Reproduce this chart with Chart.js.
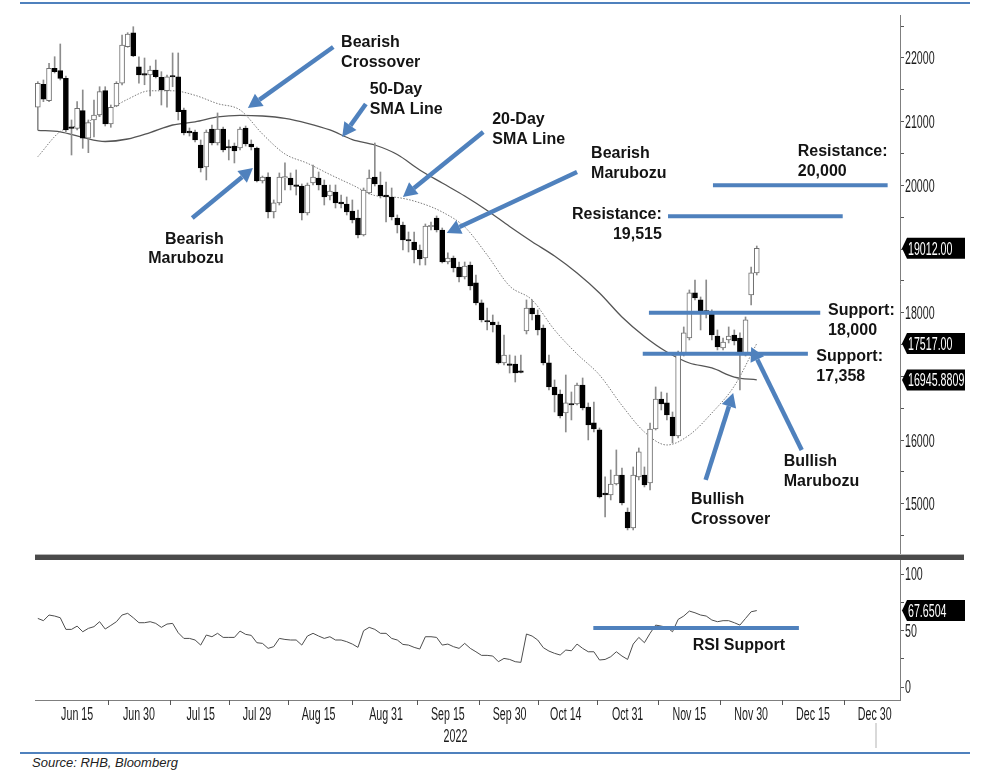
<!DOCTYPE html>
<html lang="en">
<head>
<meta charset="utf-8">
<title>Hang Seng Index – daily candles, SMA and RSI</title>
<script src="https://cdn.jsdelivr.net/npm/chart.js@4.4.1/dist/chart.umd.min.js"></script>
<style>
  html, body { margin: 0; padding: 0; background: #fff; }
  #page { position: relative; width: 999px; height: 773px; overflow: hidden; }
  #prix { position: absolute; left: 0; top: 0; }
  #rsi  { position: absolute; left: 0; top: 560px; }
  .trait-bleu { position: absolute; left: 20px; width: 950px; height: 2px; background: #4f81bd; }
  #separateur { position: absolute; left: 35px; top: 554px; width: 929px; height: 5px;
                background: #4a4a4a; border-top: 1px solid #b4b4b4; }
  #repere { position: absolute; left: 875px; top: 723px; width: 2px; height: 25px; background: #d9d9d9; }
  #source { position: absolute; left: 32px; top: 755px; color: #222;
            font: italic 13px "Liberation Sans", Arial, sans-serif; }
</style>
</head>
<body>
<div id="page">
  <div class="trait-bleu" style="top:2px"></div>
  <canvas id="prix" width="999" height="554"></canvas>
  <div id="separateur"></div>
  <canvas id="rsi" width="999" height="186"></canvas>
  <div id="repere"></div>
  <div class="trait-bleu" style="top:752px"></div>
  <div id="source">Source: RHB, Bloomberg</div>
</div>
<script>
/* ─── Categories: weekdays from Jun 6 2022 to Jan 5 2023 ───────── */
const MONTHS = ['Jan','Feb','Mar','Apr','May','Jun','Jul','Aug','Sep','Oct','Nov','Dec'];
const FIRST_DAY = new Date(2022, 5, 6);
const NB_DAYS = 154;

function weekdays() {
    const out = [];
    const d = new Date(FIRST_DAY);
    while (out.length < NB_DAYS) {
        const w = d.getDay();
        if (w !== 0 && w !== 6) out.push(MONTHS[d.getMonth()] + ' ' + d.getDate());
        d.setDate(d.getDate() + 1);
    }
    return out;
}
const dayLabels = weekdays();

const xTickLabels = ['Jun 15','Jun 30','Jul 15','Jul 29','Aug 15','Aug 31','Sep 15',
                     'Sep 30','Oct 14','Oct 31','Nov 15','Nov 30','Dec 15','Dec 30'];
const yearLabel = '2022';

/* ─── Daily candles (index points) ──────────────────────────────── */
const opens = [
    21226,21587,21330,21838,21801,21681,20912,20896,21173,20740,
    21027,21105,21487,20964,21246,21603,22177,22397,21863,21740,
    21733,21812,21697,21487,21717,21706,21184,20854,20838,20634,
    20289,20885,20665,20885,20603,20618,20587,20901,20650,20587,
    20069,20132,19582,19724,20116,20116,19990,19990,19566,20037,
    20116,20006,19833,19896,19739,19708,19598,19488,19221,19881,
    20132,20006,19849,19818,19488,19378,19143,19111,18986,18860,
    19350,19488,19300,18797,18860,18719,18562,18750,18468,18154,
    17871,17855,17808,17212,17190,17196,17070,17714,18075,17965,
    17761,17212,16835,16725,16427,16568,16568,16866,16521,16270,
    16160,15170,15139,15312,15453,14872,14621,15422,15453,15328,
    16175,16646,16584,16363,16065,17353,17604,18311,18201,18028,
    17997,17635,17447,17573,17651,17604,17369,18279,18625
];
const highs = [
    21628,21655,21917,22020,22220,21717,21027,21314,21498,21027,
    21341,21549,21549,21262,21628,22361,22397,22491,22020,22000,
    21874,21969,21785,21733,22079,22079,21215,20901,20870,20713,
    20870,20948,21137,20917,20713,20665,20917,20932,20713,20603,
    20147,20195,19771,20195,20352,20195,20242,20022,20037,20320,
    20210,20085,20006,20006,19849,19818,19771,19614,19959,20242,
    20665,20210,20053,19959,19535,19425,19268,19268,19064,19394,
    19425,19520,19331,18939,18891,18797,18797,18797,18593,18201,
    18075,17965,17855,17651,17337,17321,17337,18201,18201,18044,
    17808,17337,16945,16788,17023,16756,16897,16976,16584,16599,
    16191,15422,15532,15846,15563,14935,15579,15877,15579,16269,
    16835,16756,16740,16442,17399,17777,18358,18515,18248,18515,
    18044,17730,17604,17777,17730,17683,17934,18719,19048
];
const lows = [
    20870,21314,21314,21765,21655,20843,20477,20870,20582,20513,
    20761,21079,20932,20912,21235,21576,22168,22020,21603,21580,
    21403,21686,21262,21226,21549,21027,20791,20775,20681,20210,
    20085,20634,20634,20524,20399,20352,20556,20618,20556,20053,
    20037,19488,19488,19692,19928,19928,19849,19457,19535,20006,
    19928,19692,19771,19645,19645,19535,19410,19174,19205,19865,
    19990,19802,19425,19457,19253,18986,18954,18782,18750,18750,
    19300,19268,18782,18766,18640,18483,18530,18358,18122,17855,
    17730,17698,17196,17180,17054,16913,17054,17667,17887,17651,
    17180,16788,16442,16348,16128,16317,16552,16474,16003,16128,
    15092,14794,15061,15296,14982,14590,14590,15375,15265,15218,
    16160,16474,16317,15955,16034,17321,17573,18201,17730,17918,
    17573,17416,17416,17526,17494,16788,17321,18122,18593
];
const closes = [
    21603,21352,21838,21785,21681,20870,20896,21210,20740,20984,
    21105,21471,20964,21226,21603,22204,22377,22031,21733,21730,
    21812,21706,21498,21706,21702,21157,20823,20823,20713,20273,
    20838,20665,20885,20556,20587,20540,20885,20650,20603,20069,
    20132,19582,19724,20132,20132,20006,19985,19566,20006,20132,
    20006,19818,19912,19724,19708,19582,19457,19221,19928,20116,
    20022,19833,19818,19504,19378,19143,19127,18986,18844,19362,
    19362,19300,18797,18860,18703,18562,18734,18420,18154,17887,
    17855,17808,17212,17337,17175,17054,17065,18075,17981,17730,
    17212,16835,16709,16380,16584,16552,16866,16505,16238,16175,
    15108,15139,15312,15453,15014,14621,15453,15815,15296,16175,
    16646,16568,16395,16065,17369,17683,18311,18232,18012,18012,
    17651,17463,17541,17635,17557,17369,17887,18625,19012
];

/* ─── Moving averages, read every 4 sessions ────────────────────── */
const smaDays = [0,4,8,12,16,20,24,28,32,36,40,44,48,52,56,60,64,
                 68,72,76,80,84,88,92,96,100,104,108,112,116,120,124,128];
const sma20 = [20450,20846,20959,21152,21352,21485,21485,21414,21284,21184,20807,
               20493,20347,20171,20006,19841,19810,19727,19582,19347,18907,18420,
               18201,17730,17353,17023,16544,16128,15924,16081,16426,16850,17517];
const sma50 = [20865,20841,20752,20689,20728,20830,20948,20998,21074,21100,21089,
               21053,20975,20870,20720,20634,20485,20242,20037,19833,19606,19355,
               19116,18891,18624,18310,17934,17628,17384,17211,17133,16990,16945.8809];

/* ─── RSI (14) ──────────────────────────────────────────────────── */
const rsi = [
    60.7,58.7,63.7,62.8,61.3,51.0,51.0,53.9,48.9,51.9,
    53.4,57.8,51.3,54.5,57.8,63.7,65.2,61.3,56.9,56.9,
    57.8,56.3,52.8,55.7,56.3,48.0,43.0,43.0,41.6,37.1,
    46.0,44.5,47.5,43.9,43.9,43.9,49.5,46.6,45.7,39.2,
    38.6,34.2,35.7,43.0,42.1,41.6,41.6,37.1,45.1,47.5,
    45.1,43.0,44.5,41.6,41.6,40.1,38.0,35.1,49.8,52.8,
    51.0,47.5,47.5,43.0,41.6,37.7,37.1,35.1,33.6,44.5,
    44.5,43.9,37.1,38.0,35.7,34.2,38.6,34.2,31.2,28.0,
    28.0,27.4,22.4,25.3,24.4,22.4,21.8,46.9,45.1,41.6,
    34.8,31.8,29.8,28.3,32.7,32.1,38.0,34.2,31.2,31.2,
    23.9,24.4,26.8,31.2,27.4,24.4,38.0,43.9,39.2,47.5,
    54.8,53.9,52.8,48.9,59.8,62.8,67.2,65.7,63.7,62.8,
    59.3,57.8,58.7,58.7,56.9,54.8,60.7,66.6,67.6504
];

const priceTicks = [14500,15000,15500,16000,16500,17000,17500,18000,18500,
                    19000,19500,20000,20500,21000,21500,22000,22500];
const rsiTicks = [0, 25, 50, 75, 100];

/* ─── Annotations, in (session index, value) ────────────────────── */
const levelLines = [
    { value: 20000, from: 120.2, to: 151.3 },
    { value: 19515, from: 112.2, to: 143.3 },
    { value: 18000, from: 108.8, to: 139.3 },
    { value: 17358, from: 107.7, to: 137.1 },
];
const arrows = [
    { from: [52.6, 22173], to: [37.4, 21215] },
    { from: [58.4, 21278], to: [54.2, 20760] },
    { from: [79.3, 20838], to: [65.0, 19818] },
    { from: [96.0, 20210], to: [72.8, 19253] },
    { from: [27.5, 19488], to: [38.3, 20273] },
    { from: [118.9, 15375], to: [123.8, 16741] },
    { from: [136.0, 15846], to: [127.0, 17463] },
];
const notes = [
    { lines: ['Bearish', 'Crossover'],  day: 54.0,  value: 22236, align: 'left' },
    { lines: ['50-Day', 'SMA Line'],    day: 59.1,  value: 21498, align: 'left' },
    { lines: ['20-Day', 'SMA Line'],    day: 80.9,  value: 21027, align: 'left' },
    { lines: ['Bearish', 'Marubozu'],   day: 98.5,  value: 20493, align: 'left' },
    { lines: ['Bearish', 'Marubozu'],   day: 33.1,  value: 19150, align: 'right' },
    { lines: ['Resistance:', '19,515'], day: 111.1, value: 19535, align: 'right' },
    { lines: ['Resistance:', '20,000'], day: 135.3, value: 20524, align: 'left' },
    { lines: ['Support:', '18,000'],    day: 140.7, value: 18028, align: 'left' },
    { lines: ['Support:', '17,358'],    day: 138.6, value: 17306, align: 'left' },
    { lines: ['Bullish', 'Crossover'],  day: 116.3, value: 15061, align: 'left' },
    { lines: ['Bullish', 'Marubozu'],   day: 132.8, value: 15657, align: 'left' },
];
const rsiLevel = { value: 52.2, from: 98.9, to: 135.5 };
const rsiNote = { text: 'RSI Support', day: 116.6, value: 36.3 };

/* ─── Drawing helpers ───────────────────────────────────────────── */
const BLUE = '#4f81bd';
const FONT = '"Liberation Sans", Arial, sans-serif';
const AXIS_WIDTH = 99;
const LEFT_PAD = 35;

// Bloomberg-like narrow, tall axis text
function condensed(ctx, text, x, y, align, color) {
    ctx.save();
    ctx.translate(x, y);
    ctx.scale(0.82, 1.4);
    ctx.font = '13px ' + FONT;
    ctx.fillStyle = color || '#1a1a1a';
    ctx.textAlign = align;
    ctx.textBaseline = 'alphabetic';
    ctx.fillText(text, 0, 4.6);
    ctx.restore();
}

function drawTag(ctx, x, y, text) {
    ctx.save();
    ctx.fillStyle = '#000';
    ctx.beginPath();
    ctx.moveTo(x, y);
    ctx.lineTo(x + 5, y - 10.5);
    ctx.lineTo(x + 63, y - 10.5);
    ctx.lineTo(x + 63, y + 10.5);
    ctx.lineTo(x + 5, y + 10.5);
    ctx.closePath();
    ctx.fill();
    ctx.restore();
    condensed(ctx, text, x + 6, y, 'left', '#fff');
}

function drawArrow(ctx, x1, y1, x2, y2) {
    const a = Math.atan2(y2 - y1, x2 - x1);
    const head = 14, half = 7.5;
    const bx = x2 - head * Math.cos(a), by = y2 - head * Math.sin(a);
    ctx.save();
    ctx.strokeStyle = BLUE;
    ctx.fillStyle = BLUE;
    ctx.lineWidth = 4.5;
    ctx.beginPath();
    ctx.moveTo(x1, y1);
    ctx.lineTo(bx, by);
    ctx.stroke();
    ctx.beginPath();
    ctx.moveTo(x2, y2);
    ctx.lineTo(bx + half * Math.sin(a), by - half * Math.cos(a));
    ctx.lineTo(bx - half * Math.sin(a), by + half * Math.cos(a));
    ctx.closePath();
    ctx.fill();
    ctx.restore();
}

function drawLevel(ctx, xs, ys, lvl) {
    ctx.save();
    ctx.strokeStyle = BLUE;
    ctx.lineWidth = 4;
    ctx.beginPath();
    ctx.moveTo(xs.getPixelForValue(lvl.from), ys.getPixelForValue(lvl.value));
    ctx.lineTo(xs.getPixelForValue(lvl.to), ys.getPixelForValue(lvl.value));
    ctx.stroke();
    ctx.restore();
}

function boldText(ctx, lines, x, y, align) {
    ctx.save();
    ctx.font = 'bold 16px ' + FONT;
    ctx.fillStyle = '#141414';
    ctx.textAlign = align;
    ctx.textBaseline = 'middle';
    lines.forEach((l, i) => ctx.fillText(l, x, y + i * 19.5));
    ctx.restore();
}

function spread(values) {
    const out = new Array(closes.length).fill(null);
    smaDays.forEach((d, k) => { out[d] = values[k]; });
    return out;
}

const fixWidth = s => { s.width = AXIS_WIDTH; };

/* ─── Plugins ───────────────────────────────────────────────────── */
const pricePlugin = {
    id: 'pricePlugin',
    afterDraw(chart) {
        const { ctx, chartArea } = chart;
        const xs = chart.scales.x, ys = chart.scales.y;

        levelLines.forEach(l => drawLevel(ctx, xs, ys, l));
        arrows.forEach(a => drawArrow(ctx,
            xs.getPixelForValue(a.from[0]), ys.getPixelForValue(a.from[1]),
            xs.getPixelForValue(a.to[0]), ys.getPixelForValue(a.to[1])));
        notes.forEach(n => boldText(ctx, n.lines,
            xs.getPixelForValue(n.day), ys.getPixelForValue(n.value), n.align));

        priceTicks.filter(v => v % 1000 === 0).forEach(v =>
            condensed(ctx, String(v), chartArea.right + 5, ys.getPixelForValue(v), 'left'));

        const last = closes.length - 1;
        const tags = [
            { value: closes[last], text: closes[last].toFixed(2) },
            { value: sma20[sma20.length - 1], text: sma20[sma20.length - 1].toFixed(2) },
            { value: sma50[sma50.length - 1], text: sma50[sma50.length - 1].toFixed(4) },
        ];
        tags.forEach(t => drawTag(ctx, chartArea.right + 2, ys.getPixelForValue(t.value), t.text));
    },
};

const rsiPlugin = {
    id: 'rsiPlugin',
    afterDraw(chart) {
        const { ctx, chartArea } = chart;
        const xs = chart.scales.x, ys = chart.scales.y;

        drawLevel(ctx, xs, ys, rsiLevel);
        boldText(ctx, [rsiNote.text], xs.getPixelForValue(rsiNote.day),
                 ys.getPixelForValue(rsiNote.value), 'left');

        rsiTicks.filter(v => v % 50 === 0).forEach(v =>
            condensed(ctx, String(v), chartArea.right + 5, ys.getPixelForValue(v), 'left'));

        // x labels and half-month tick marks
        const idx = xTickLabels.map(l => dayLabels.indexOf(l));
        const base = chartArea.bottom;
        ctx.save();
        ctx.strokeStyle = '#555';
        ctx.lineWidth = 1;
        idx.slice(1).forEach((d, k) => {
            const x = Math.round(xs.getPixelForValue((d + idx[k]) / 2)) + 0.5;
            ctx.beginPath();
            ctx.moveTo(x, base);
            ctx.lineTo(x, base + 5);
            ctx.stroke();
        });
        ctx.restore();
        idx.forEach((d, k) => condensed(ctx, xTickLabels[k], xs.getPixelForValue(d), base + 14, 'center'));
        condensed(ctx, yearLabel, xs.getPixelForValue(dayLabels.indexOf('Sep 16')) + 2, base + 36, 'center');

        const r = rsi[rsi.length - 1];
        drawTag(ctx, chartArea.right + 2, ys.getPixelForValue(r), r.toFixed(4));
    },
};

/* ─── Price panel ───────────────────────────────────────────────── */
const bodyFill = opens.map((o, i) => closes[i] >= o ? '#ffffff' : '#000000');
const bodyEdge = opens.map((o, i) => closes[i] >= o ? '#707070' : '#000000');

new Chart(document.getElementById('prix'), {
    type: 'bar',
    data: {
        labels: dayLabels,
        datasets: [
            {
                type: 'line', label: '50-Day SMA', data: spread(sma50),
                borderColor: '#555555', borderWidth: 1.3, pointRadius: 0,
                spanGaps: true, cubicInterpolationMode: 'monotone', order: 5,
            },
            {
                type: 'line', label: '20-Day SMA', data: spread(sma20),
                borderColor: '#7a7a7a', borderWidth: 1, borderDash: [1.5, 1.5], pointRadius: 0,
                spanGaps: true, cubicInterpolationMode: 'monotone', order: 4,
            },
            {
                label: 'High-Low', data: lows.map((l, i) => [l, highs[i]]),
                backgroundColor: '#8c8c8c', barThickness: 1, grouped: false, order: 3,
            },
            {
                label: 'Open-Close', data: opens.map((o, i) => [o, closes[i]]),
                backgroundColor: bodyFill, borderColor: bodyEdge, borderWidth: 1,
                borderSkipped: false, barThickness: 5, minBarLength: 1.5,
                grouped: false, order: 2,
            },
        ],
    },
    options: {
        responsive: false,
        animation: false,
        devicePixelRatio: 1,
        layout: { padding: { left: LEFT_PAD, top: 15, right: 0, bottom: 1 } },
        plugins: { legend: { display: false }, tooltip: { enabled: false } },
        scales: {
            x: { type: 'category', display: false, offset: true },
            y: {
                position: 'right', min: 14228, max: 22675,
                afterFit: fixWidth,
                afterBuildTicks: s => { s.ticks = priceTicks.map(v => ({ value: v })); },
                border: { color: '#7f7f7f' },
                grid: { drawOnChartArea: false, tickLength: 4, color: '#555' },
                ticks: { display: false },
            },
        },
    },
    plugins: [pricePlugin],
});

/* ─── RSI panel ─────────────────────────────────────────────────── */
new Chart(document.getElementById('rsi'), {
    type: 'line',
    data: {
        labels: dayLabels,
        datasets: [{
            label: 'RSI', data: rsi,
            borderColor: '#4d4d4d', borderWidth: 1, pointRadius: 0,
        }],
    },
    options: {
        responsive: false,
        animation: false,
        devicePixelRatio: 1,
        layout: { padding: { left: LEFT_PAD, top: 0, right: 0, bottom: 0 } },
        plugins: { legend: { display: false }, tooltip: { enabled: false } },
        scales: {
            x: {
                type: 'category', offset: true,
                afterFit: s => { s.height = 46; },
                border: { color: '#7f7f7f' },
                grid: { display: false, drawTicks: false },
                ticks: { display: false },
            },
            y: {
                position: 'right', min: -11.5, max: 112.4,
                afterFit: fixWidth,
                afterBuildTicks: s => { s.ticks = rsiTicks.map(v => ({ value: v })); },
                border: { color: '#7f7f7f' },
                grid: { drawOnChartArea: false, tickLength: 4, color: '#555' },
                ticks: { display: false },
            },
        },
    },
    plugins: [rsiPlugin],
});
</script>
</body>
</html>
